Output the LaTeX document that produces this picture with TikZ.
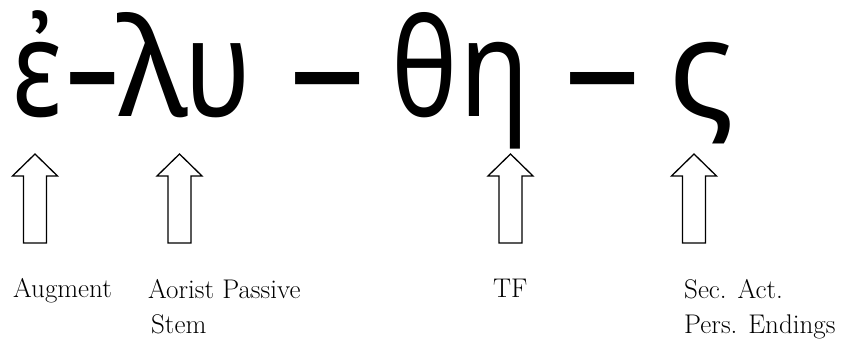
\documentclass[tikz,border=0pt]{standalone}
\usepackage{fontspec}
\newfontfamily\grk{Noto Sans}
\begin{document}
\begin{tikzpicture}[x=1pt,y=-1pt,
  greek/.style={inner sep=0pt,anchor=base west,font=\grk\fontsize{136}{140}\selectfont},
  lbl/.style={inner sep=0pt,anchor=base west,font=\fontsize{27}{35}\selectfont,align=left},
  hollow/.style={draw=black,line width=1.3pt,fill=white,line join=miter}]
\useasboundingbox (0,0) rectangle (841,339);
% Greek word
\node[greek] (g1) at (12,117) {\scalebox{0.78}[1]{ἐ}};
\node[greek] (d1) at (66,117) {\raisebox{-4pt}{\scalebox{0.77}[1.15]{–}}};
\node[greek] (g2) at (117,117) {λ};
\node[greek] (g3) at (184,117) {\scalebox{0.83}[1]{υ}};
\node[greek] (d2) at (289,117) {\raisebox{-4pt}{\scalebox{1.12}[1.15]{–}}};
\node[greek] (g4) at (391,117) {\scalebox{0.82}[1]{θ}};
\node[greek] (g5) at (459,117) {\scalebox{0.85}[1]{η}};
\node[greek] (d3) at (564,117) {\raisebox{-4pt}{\scalebox{1.12}[1.15]{–}}};
\node[greek] (g6) at (668,117) {ς};
% hollow arrows
\foreach \n/\cx in {a1/35,a2/179.5,a3/510.5,a4/694}{
  \coordinate (\n) at (\cx,154);
  \draw[hollow] (\n) -- ++(22.5,22) -- ++(-11,0) -- ++(0,67) -- ++(-23,0)
     -- ++(0,-67) -- ++(-11,0) -- cycle;
}
% labels
\node[lbl] (l1) at (13,298) {Augment};
\node[lbl] (l2) at (148,333) {Aorist Passive\\\hspace*{3pt}Stem};
\node[lbl] (l3) at (493,298) {TF};
\node[lbl] (l4) at (684,333) {Sec. Act.\\Pers. Endings};
\end{tikzpicture}
\end{document}
